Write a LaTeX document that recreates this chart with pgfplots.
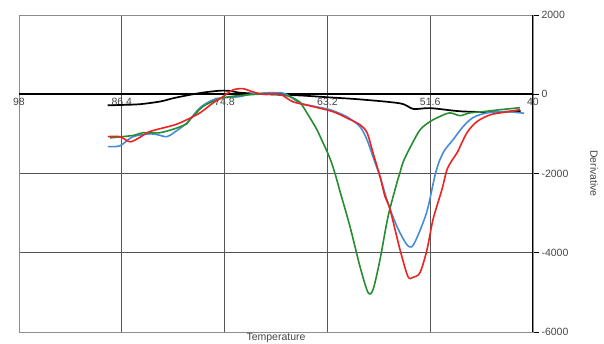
\documentclass[border=0pt]{standalone}
\usepackage{fontspec}
\setmainfont{Liberation Sans}
\usepackage{pgfplots}
\pgfplotsset{compat=1.18}
\definecolor{cblue}{RGB}{70,140,215}
\definecolor{cred}{RGB}{235,35,35}
\definecolor{cgreen}{RGB}{40,140,50}
\definecolor{gridc}{RGB}{85,85,85}
\definecolor{framec}{RGB}{140,140,140}
\definecolor{labc}{RGB}{70,70,70}
\begin{document}
\begin{tikzpicture}
\useasboundingbox (-19pt,-11pt) rectangle (585pt,332pt);
\begin{axis}[
  at={(0pt,0pt)}, anchor=south west,
  width=514pt, height=317pt, scale only axis,
  x dir=reverse, xmin=40, xmax=98, ymin=-6000, ymax=2000,
  xtick={40,51.6,63.2,74.8,86.4,98},
  xticklabels={40,51.6,63.2,74.8,86.4,98},
  ytick={-6000,-4000,-2000,0,2000},
  yticklabels={-6000,-4000,-2000,0,2000},
  ytick pos=right, yticklabel pos=right,
  xmajorgrids, ymajorgrids,
  grid style={gridc, line width=0.9pt},
  extra y ticks={0}, extra y tick labels={},
  extra y tick style={grid style={black, line width=2.3pt}, draw=none},
  axis line style={framec, line width=0.9pt},
  x tick style={draw=none},
  y tick style={black, line width=0.8pt},
  xtick align=inside, ytick align=outside, major tick length=6pt,
  tick label style={font=\fontsize{10.5}{12}\selectfont, text=labc},
  xticklabel style={yshift=237.75pt},
  yticklabel style={xshift=-1pt},
  xlabel={Temperature}, ylabel={Derivative},
  xlabel style={at={(axis description cs:0.5,0)}, anchor=north, yshift=-1pt, inner sep=0pt, font=\fontsize{10.5}{12}\selectfont, text=labc},
  ylabel style={at={(axis description cs:1.1187,0.5)}, anchor=center, rotate=180, font=\fontsize{10.5}{12}\selectfont, text=labc},
]
\addplot[black, line width=1.7pt, smooth] table {
88.0 -280
86.4 -270
84.3 -250
82.0 -180
80.4 -90
77.6 30
75.3 90
74.0 80
73.1 40
70.0 0
66.3 -30
62.9 -80
59.5 -130
55.0 -230
53.5 -370
51.6 -350
48.2 -430
45.0 -450
43.7 -450
41.4 -420
};
\addplot[cblue, line width=1.6pt, smooth] table {
87.96 -1320
86.6 -1300
85.14 -1070
83.2 -1000
82.4 -1020
81.3 -1070
80.4 -950
79.04 -720
77.58 -340
76.11 -140
74.98 -90
73.06 -60
71.93 0
69.68 40
68.21 30
67.4 -60
66.29 -220
64.83 -300
62.91 -390
60.99 -570
59.52 -820
58.73 -1150
58.05 -1580
57.26 -2080
56.5 -2650
55.7 -3150
55.0 -3500
54.22 -3800
53.7 -3850
53.09 -3620
51.96 -2950
51.06 -2050
50.5 -1650
49.93 -1400
49.03 -1150
47.90 -820
46.77 -590
45.19 -470
42.93 -440
41.0 -480
};
\addplot[cgreen, line width=1.6pt, smooth] table {
87.73 -1100
85.14 -1040
84.01 -970
82.09 -970
80.17 -850
79.04 -740
78.70 -640
77.24 -310
75.66 -140
74.19 -60
71.14 0
68.89 0
67.42 -60
66.29 -200
65.95 -310
64.83 -720
64.37 -900
63.70 -1220
62.91 -1620
62.34 -2000
61.78 -2450
60.65 -3340
59.52 -4350
58.62 -5000
58.05 -4930
57.26 -4170
56.36 -3090
55.35 -2230
55.01 -1980
54.67 -1720
53.88 -1350
52.75 -900
51.62 -690
50.5 -560
49.37 -470
48.24 -540
47.11 -470
45.64 -440
43.72 -390
41.47 -340
};
\addplot[cred, line width=1.6pt, smooth] table {
87.96 -1070
86.6 -1070
85.47 -1200
84.3 -1080
83.22 -940
80.40 -770
79.04 -640
77.58 -470
76.11 -220
74.98 -60
73.85 110
72.72 140
71.60 60
70.47 0
68.55 0
67.08 -190
64.83 -310
62.57 -440
60.99 -600
59.52 -770
58.73 -970
58.05 -1480
57.26 -2080
56.70 -2580
56.14 -2900
55.01 -3920
54.11 -4600
53.54 -4620
52.75 -4500
51.96 -3920
51.28 -3160
50.27 -2400
49.70 -1900
49.0 -1620
48.57 -1480
47.45 -970
46.32 -690
44.85 -520
43.39 -460
41.47 -390
};
\draw[black, line width=2.5pt] (axis description cs:1,0) -- (axis description cs:1,1);
\end{axis}
\end{tikzpicture}
\end{document}
